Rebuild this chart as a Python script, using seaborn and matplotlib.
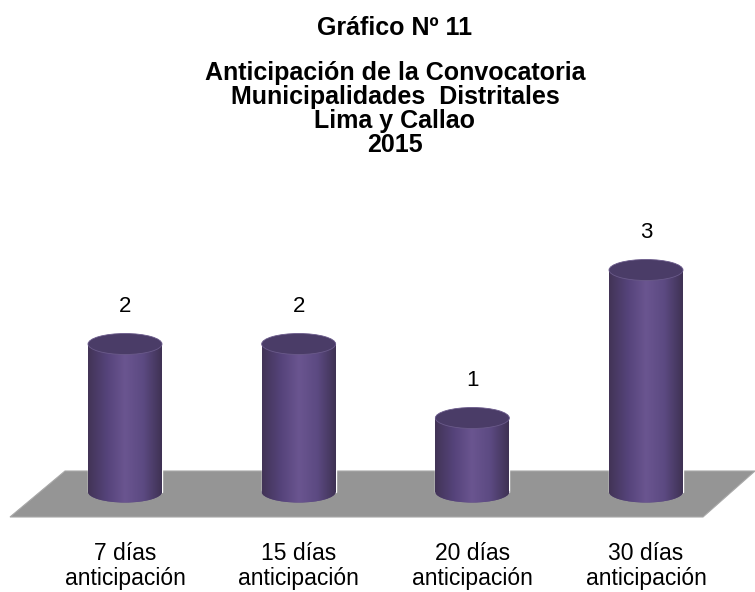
import numpy as np
import pandas as pd
import seaborn as sns
import matplotlib
matplotlib.use("Agg")
import matplotlib.pyplot as plt
from matplotlib.patches import Ellipse, Polygon
from matplotlib.colors import LinearSegmentedColormap

sns.set_theme(style="white")
plt.rcParams['font.family'] = ['Liberation Sans', 'DejaVu Sans']
plt.rcParams['text.color'] = 'black'

# data
categorias = ["7 días\nanticipación", "15 días\nanticipación",
              "20 días\nanticipación", "30 días\nanticipación"]
valores = [2, 2, 1, 3]
titulo = "Gráfico Nº 11"
subtitulo = ["Anticipación de la Convocatoria",
             "Municipalidades  Distritales",
             "Lima y Callao",
             "2015"]

df = pd.DataFrame({"cat": categorias, "n": valores})

W, H = 755, 592
fig = plt.figure(figsize=(W / 100, H / 100), dpi=100)
ax = fig.add_axes([0, 0, 1, 1])

bar_w = 0.426
body = "#5a4880"
sns.barplot(data=df, x="cat", y="n", color=body, width=bar_w,
            saturation=1, ax=ax, zorder=2)
bars = list(ax.containers[0])

# floor (gray parallelogram), axes fraction coordinates
floor = [(65, 471), (755, 471), (703, 517), (10, 517)]
ax.add_patch(Polygon([(x / W, 1 - y / H) for x, y in floor], closed=True,
                     transform=ax.transAxes, facecolor="#959595",
                     edgecolor="#a8a8a8", lw=0.8, zorder=0))

cmap = LinearSegmentedColormap.from_list(
    "cyl", ["#423456", "#55437a", "#6a5590", "#5c4a82", "#3f3254"])
grad = np.linspace(0, 1, 200).reshape(1, -1)

# pixel mapping: x=0 -> 125 px, x=3 -> 646 px ; v=0 -> 492 px, 74 px per unit
ux = 3 / 521
x_left = -125 * ux
x_right = 3 + (W - 646) * ux
py = 74.0
y_bot = (492 - H) / py
y_top = 492 / py
eh = 21 / py

for i, p in enumerate(bars):
    x0, w, h = p.get_x(), p.get_width(), p.get_height()
    xc = x0 + w / 2
    base = Ellipse((xc, 0), w, eh, facecolor=body, edgecolor="none", zorder=2)
    ax.add_patch(base)
    for clip in (p, base):
        im = ax.imshow(grad, extent=[x0, x0 + w, -eh, h], aspect="auto",
                       cmap=cmap, zorder=3, interpolation="bicubic")
        im.set_clip_path(clip)
    ax.add_patch(Ellipse((xc, h), w, eh, facecolor="#4a3c67",
                         edgecolor="#6a5a8a", lw=0.6, zorder=4))
    ax.text(xc, h + 0.5, str(valores[i]), ha="center", va="center",
            fontsize=16, color="black", zorder=5)

ax.set_xlim(x_left, x_right)
ax.set_ylim(y_bot, y_top)
ax.axis("off")

# category labels under the floor
for i, c in enumerate(categorias):
    l1, l2 = c.split("\n")
    ax.text(i, (492 - 553) / py, l1, ha="center", va="center", fontsize=16.5)
    ax.text(i, (492 - 578) / py, l2, ha="center", va="center", fontsize=16.5)

fig.text(395 / W, 1 - 28 / H, titulo, ha="center", va="center",
         fontsize=18, fontweight="bold")
for k, line in enumerate(subtitulo):
    fig.text(395 / W, 1 - (73 + 24 * k) / H, line, ha="center", va="center",
             fontsize=18, fontweight="bold")

fig.savefig("out.png", dpi=100)
